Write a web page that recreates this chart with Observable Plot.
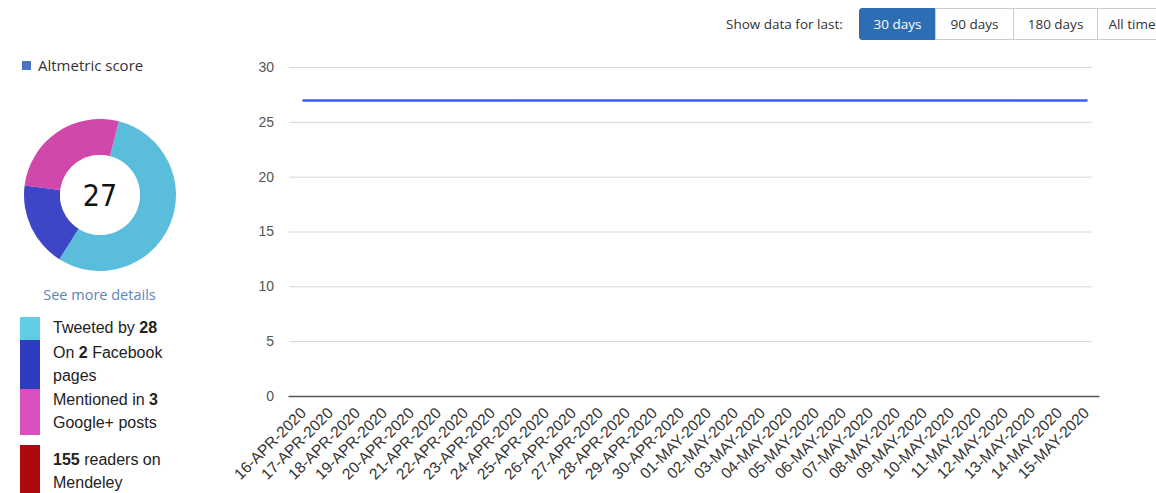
<!DOCTYPE html>
<html>
<head>
<meta charset="utf-8">
<script src="https://cdn.jsdelivr.net/npm/d3@7"></script>
<script src="https://cdn.jsdelivr.net/npm/@observablehq/plot@0.6"></script>
<style>
  html, body { margin: 0; padding: 0; background: #fff; width: 1156px; height: 493px; overflow: hidden; }
  #chart { position: absolute; left: 0; top: 0; }
  .side { position: absolute; font-family: "Open Sans", sans-serif; color: #333; }
  #scoreKey { left: 22px; top: 55px; font-size: 15px; }
  #scoreKey .sq { display: inline-block; width: 9px; height: 9px; background: #4a74c4; margin-right: 7px; vertical-align: 1px; }
  #donut { left: 20px; top: 115px; }
  #more { left: 0; width: 199px; text-align: center; top: 285px; font-size: 14.5px; color: #5b86b9; }
  .leg { position: absolute; left: 53px; font-family: "Liberation Sans", Arial, sans-serif; font-size: 16px; color: #222; line-height: 20px; white-space: nowrap; }
  .bar { position: absolute; left: 20px; width: 20px; }
  #toolbar { position: absolute; top: 8px; left: 726px; font-family: "Open Sans", sans-serif; font-size: 13.5px; color: #333; display: flex; align-items: center; white-space: nowrap; }
  #toolbar .lbl { width: 134px; }
  #toolbar .btn { box-sizing: border-box; height: 32px; line-height: 30px; text-align: center; border: 1px solid #ccc; background: #fff; margin-left: -1px; }
  #toolbar .btn.on { background: #2c6db3; color: #fff; border-color: #2c6db3; border-radius: 3px 0 0 3px; }
</style>
</head>
<body>
<div id="chart"></div>
<div class="side" id="scoreKey"><span class="sq"></span>Altmetric score</div>
<div class="side" id="donut"></div>
<div class="side" id="more">See more details</div>
<div id="legend"></div>
<div id="toolbar"></div>
<script>
// ---- data ----
const dates = ["16-APR-2020","17-APR-2020","18-APR-2020","19-APR-2020","20-APR-2020","21-APR-2020","22-APR-2020","23-APR-2020","24-APR-2020","25-APR-2020","26-APR-2020","27-APR-2020","28-APR-2020","29-APR-2020","30-APR-2020","01-MAY-2020","02-MAY-2020","03-MAY-2020","04-MAY-2020","05-MAY-2020","06-MAY-2020","07-MAY-2020","08-MAY-2020","09-MAY-2020","10-MAY-2020","11-MAY-2020","12-MAY-2020","13-MAY-2020","14-MAY-2020","15-MAY-2020"];
const scores = [27,27,27,27,27,27,27,27,27,27,27,27,27,27,27,27,27,27,27,27,27,27,27,27,27,27,27,27,27,27];
const yTicks = [0,5,10,15,20,25,30];
const totalScore = 27;
const donutSources = ["Twitter","Facebook","Google+"];
const donutShares = [55,18,27];
const donutColors = ["#4db7d9","#2b36c2","#cc3aa3"];
const legendLines = [[["Tweeted by ","28",""]],[["On ","2"," Facebook"],["pages","",""]],[["Mentioned in ","3",""],["Google+ posts","",""]],[["","155"," readers on"],["Mendeley","",""]]];
const legendColors = ["#5fcde3","#2e3dbd","#d94fbd","#ad0a0e"];
const periods = ["30 days","90 days","180 days","All time"];

// ---- main chart ----
const table = dates.map((d, i) => ({date: d, score: scores[i]}));
const chart = Plot.plot({
  width: 1156,
  height: 493,
  marginLeft: 289.5,
  marginRight: 57.5,
  marginTop: 67,
  marginBottom: 97,
  style: {fontFamily: "'Liberation Sans', Arial, sans-serif", fontSize: "14px", color: "#333", background: "transparent"},
  x: {type: "point", domain: dates, range: [289.5, 1098.5], padding: 0, label: null},
  y: {domain: [0, 30], label: null},
  marks: [
    Plot.ruleY(yTicks.filter(t => t > 0), {stroke: "#d6d6d6", strokeWidth: 1, strokeOpacity: 1, insetLeft: -0.5, insetRight: 7}),
    Plot.ruleY([0], {stroke: "#555", strokeWidth: 1.5, insetLeft: -1, insetRight: -1}),
    Plot.axisY({ticks: yTicks, tickSize: 0, tickPadding: 16, fontSize: 14, fill: "#555", label: null}),
    Plot.axisX({tickSize: 0, tickPadding: 14, tickRotate: -45, fontSize: 15.5, fill: "#333", label: null}),
    Plot.lineY(table, {x: "date", y: "score", stroke: "#3f5cf2", strokeWidth: 2.5})
  ]
});
document.getElementById("chart").appendChild(chart);

// ---- donut ----
const size = 160, R = 76, r = 40;
const svg = d3.select("#donut").append("svg").attr("width", size).attr("height", size);
const g = svg.append("g").attr("transform", `translate(${size/2},${size/2})`);
const pie = d3.pie().sort(null).startAngle(0.25).endAngle(0.25 + 2 * Math.PI);
const arc = d3.arc().innerRadius(r).outerRadius(R);
g.selectAll("path").data(pie(donutShares)).join("path")
  .attr("d", arc).attr("fill", (d, i) => donutColors[i]).attr("opacity", 0.92);
g.append("circle").attr("r", r).attr("fill", "#fff");
g.append("text").attr("text-anchor", "middle").attr("dy", "0.36em")
  .attr("font-family", "'Liberation Sans Narrow', 'DejaVu Sans Condensed', sans-serif")
  .attr("font-size", 30).attr("fill", "#111").text(totalScore);

// ---- legend ----
const legend = document.getElementById("legend");
const barSpans = [[317, 340], [340, 389], [389, 435], [445, 493]];
barSpans.forEach((s, i) => {
  const b = document.createElement("div");
  b.className = "bar";
  b.style.top = s[0] + "px";
  b.style.height = (s[1] - s[0]) + "px";
  b.style.background = legendColors[i];
  legend.appendChild(b);
});
const textTops = [[318], [343, 366], [390, 413], [450, 473]];
legendLines.forEach((lines, i) => {
  lines.forEach((t, j) => {
    const d = document.createElement("div");
    d.className = "leg";
    d.style.top = textTops[i][j] + "px";
    d.innerHTML = `${t[0]}${t[1] ? "<b>" + t[1] + "</b>" : ""}${t[2]}`;
    legend.appendChild(d);
  });
});

// ---- toolbar ----
const tb = document.getElementById("toolbar");
const lbl = document.createElement("span");
lbl.className = "lbl";
lbl.textContent = "Show data for last:";
tb.appendChild(lbl);
const btnWidths = [77, 79, 85, 70];
periods.forEach((p, i) => {
  const b = document.createElement("span");
  b.className = "btn" + (i === 0 ? " on" : "");
  b.style.width = btnWidths[i] + "px";
  b.textContent = p;
  tb.appendChild(b);
});
</script>
</body>
</html>
